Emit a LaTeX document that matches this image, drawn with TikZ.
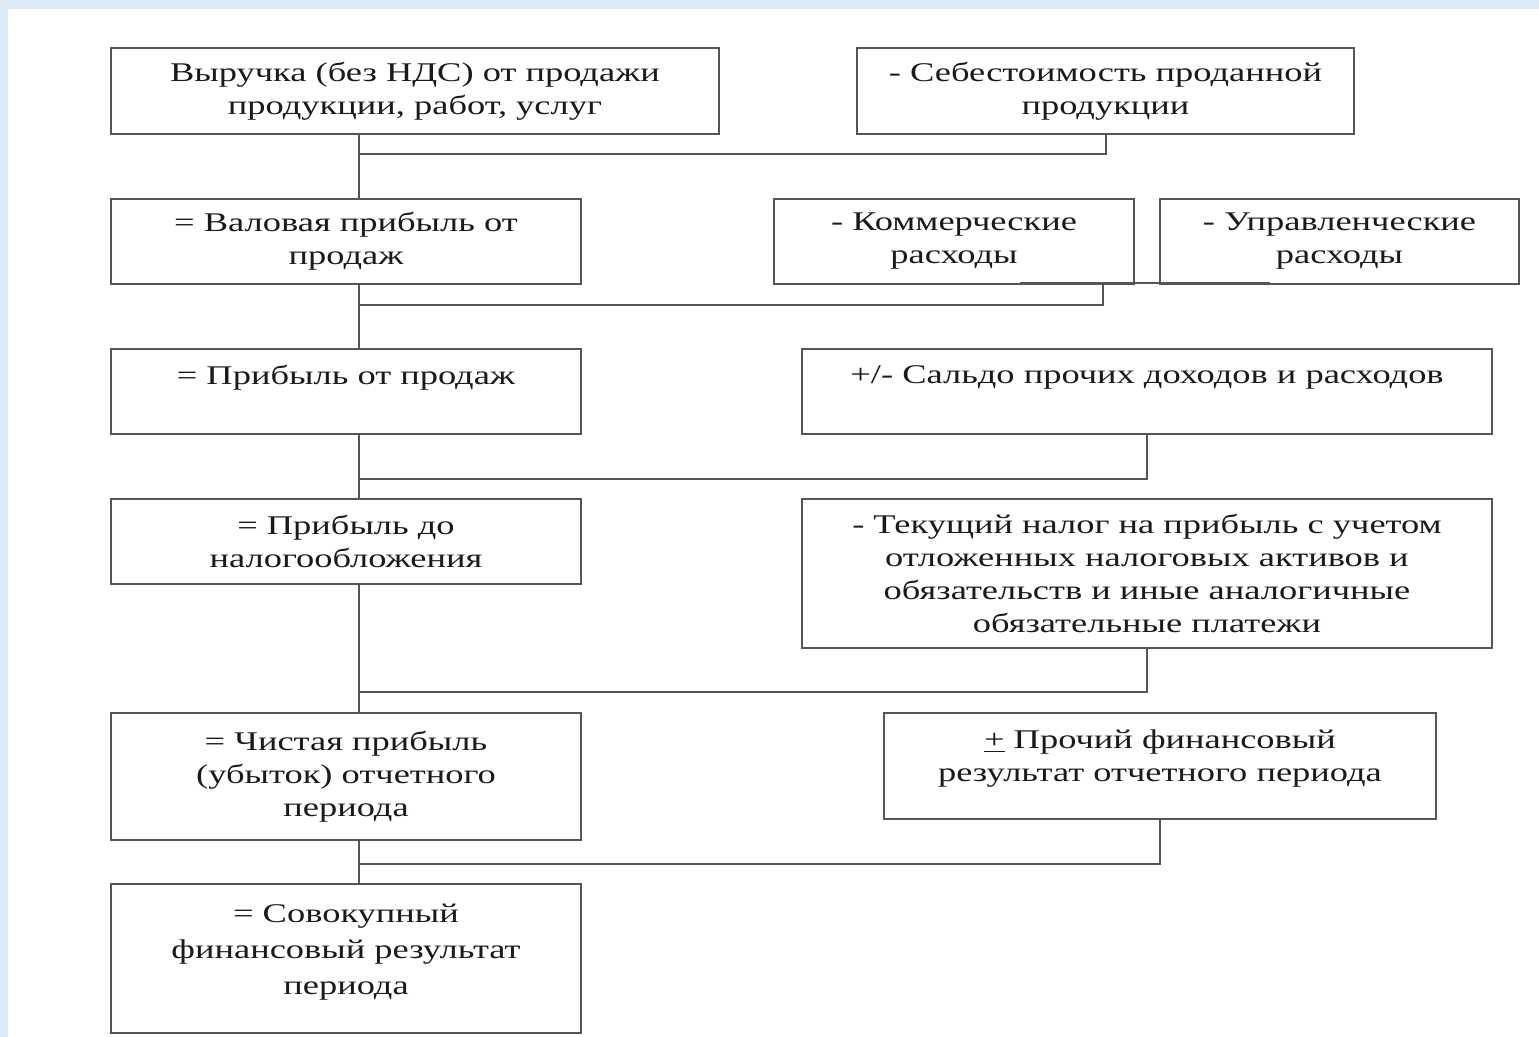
\documentclass[tikz,border=0pt]{standalone}
\usepackage{fontspec}
\setmainfont[FakeStretch=1.35]{Liberation Serif}
\usepackage{tikz}
\usetikzlibrary{positioning}
\definecolor{frameG}{RGB}{85,85,85}
\definecolor{slideB}{RGB}{220,233,246}
\definecolor{inkK}{RGB}{25,25,30}

\tikzset{
  fbox/.style={draw=frameG, line width=1pt, fill=white, align=center, inner sep=0pt,
    anchor=north west, text=inkK, font=\fontsize{13.5}{16.5}\selectfont},
  link/.style={draw=frameG, line width=1pt}
}

\begin{document}
\begin{tikzpicture}[x=0.5pt, y=-0.5pt]
  \useasboundingbox (0,0) rectangle (1539,1037);
  % slide background, white sheet
  \fill[slideB] (0,0) rectangle (1539,1037);
  \fill[white] (8,9) rectangle (1539,1037);

  % left column
  \node[fbox, minimum width=608*0.5pt, minimum height=86*0.5pt] (rev) at (110,47)
    {Выручка (без НДС) от продажи\\продукции, работ, услуг};
  \node[fbox, minimum width=470*0.5pt, minimum height=85*0.5pt] (gross) at (110,198)
    {= Валовая прибыль от\\продаж};
  \node[fbox, minimum width=470*0.5pt, minimum height=85*0.5pt] (sales) at (110,348)
    {= Прибыль от продаж\\\mbox{}};
  \node[fbox, minimum width=470*0.5pt, minimum height=85*0.5pt] (pretax) at (110,498)
    {= Прибыль до\\налогообложения};
  \node[fbox, minimum width=470*0.5pt, minimum height=127*0.5pt] (net) at (110,712)
    {= Чистая прибыль\\(убыток) отчетного\\периода};
  \node[fbox, minimum width=470*0.5pt, minimum height=149*0.5pt,
        font=\fontsize{13.5}{18}\selectfont] (total) at (110,883)
    {= Совокупный\\финансовый результат\\периода\\[-9pt]\mbox{}};

  % right column
  \node[fbox, minimum width=497*0.5pt, minimum height=86*0.5pt] (cost) at (856,47)
    {- Себестоимость проданной\\продукции};
  \node[fbox, minimum width=360*0.5pt, minimum height=85*0.5pt] (comm) at (773,198)
    {- Коммерческие\\расходы};
  \node[fbox, minimum width=359*0.5pt, minimum height=85*0.5pt] (mgmt) at (1159,198)
    {- Управленческие\\расходы};
  \node[fbox, minimum width=690*0.5pt, minimum height=85*0.5pt] (other) at (801,348)
    {+/- Сальдо прочих доходов и расходов\\\mbox{}};
  \node[fbox, minimum width=690*0.5pt, minimum height=149*0.5pt] (tax) at (801,498)
    {- Текущий налог на прибыль с учетом\\отложенных налоговых активов и\\обязательств и иные аналогичные\\обязательные платежи};
  \node[fbox, minimum width=552*0.5pt, minimum height=106*0.5pt] (misc) at (883,712)
    {\underline{+} Прочий финансовый\\результат отчетного периода\\[-6pt]\mbox{}};

  % junction points on the spine
  \coordinate (j1) at (359,154);
  \coordinate (j2) at (359,305);
  \coordinate (j3) at (359,479);
  \coordinate (j4) at (359,692);
  \coordinate (j5) at (359,864);
  \coordinate (kL) at (1020,283);
  \coordinate (kR) at (1270,283);
  \coordinate (kM) at (1103,283);

  % spine
  \draw[link] (rev.south -| j1) -- (gross.north -| j1);
  \draw[link] (gross.south -| j2) -- (sales.north -| j2);
  \draw[link] (sales.south -| j3) -- (pretax.north -| j3);
  \draw[link] (pretax.south -| j4) -- (net.north -| j4);
  \draw[link] (net.south -| j5) -- (total.north -| j5);
  % side branches
  \draw[link] (cost.south) |- (j1);
  \draw[link] (kL) -- (kR);
  \draw[link] (kM) |- (j2);
  \draw[link] (other.south) |- (j3);
  \draw[link] (tax.south) |- (j4);
  \draw[link] (misc.south) |- (j5);
\end{tikzpicture}
\end{document}
